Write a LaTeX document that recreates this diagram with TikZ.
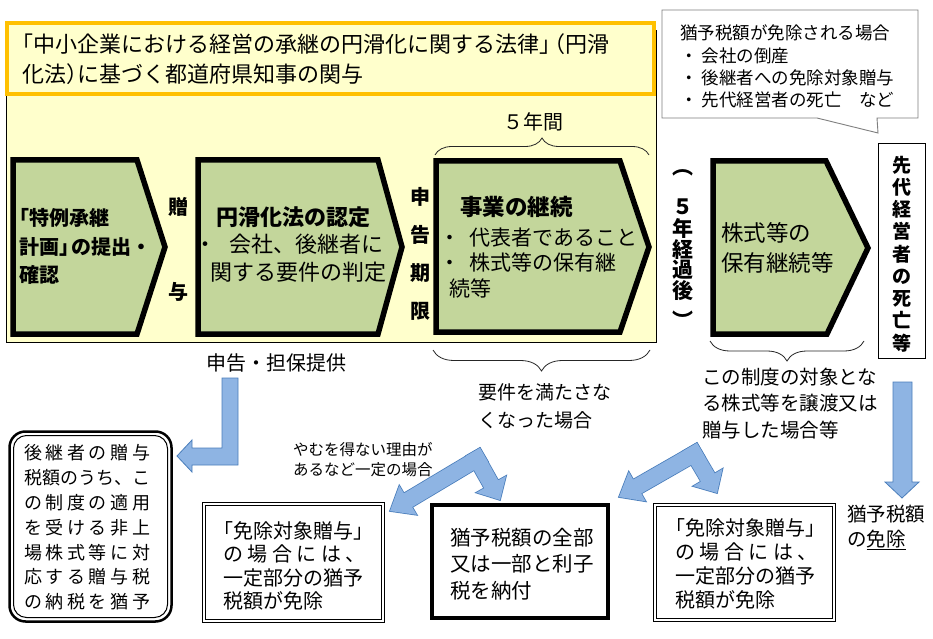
\documentclass[tikz,border=0pt]{standalone}
\usepackage{fontspec}
\setmainfont{Noto Sans CJK JP}
\usetikzlibrary{calc,decorations.pathreplacing}
\definecolor{panel}{HTML}{FFFFCC}
\definecolor{orangeb}{HTML}{FFC000}
\definecolor{chev}{HTML}{C3D69B}
\definecolor{afill}{HTML}{8EB4E3}
\definecolor{aline}{HTML}{4A7EBB}
\definecolor{cgray}{HTML}{7F7F7F}
\newcommand\fs[2]{\fontsize{#1bp}{#2bp}\selectfont}
% block-arrow arm: #1 prefix, #2 start, #3 tip, #4 half shaft, #5 half head, #6 head length
\newcommand\mkarm[6]{%
  \coordinate (#1S) at ($(#2)!-#4!(#3)$);
  \coordinate (#1P) at ($(#3)!#6!(#2)$);
  \coordinate (#1a) at ($(#1S)!#4!90:(#3)$);
  \coordinate (#1b) at ($(#1P)!#4!90:(#3)$);
  \coordinate (#1c) at ($(#1P)!#5!90:(#3)$);
  \coordinate (#1d) at ($(#1P)!#5!-90:(#3)$);
  \coordinate (#1e) at ($(#1P)!#4!-90:(#3)$);
  \coordinate (#1f) at ($(#1S)!#4!-90:(#3)$);
}
\newcommand\armO[2]{\filldraw[aout] (#1a) -- (#1b) -- (#1c) -- (#2) -- (#1d) -- (#1e) -- (#1f) -- cycle;}
\newcommand\armF[2]{\fill[afill] (#1a) -- (#1b) -- (#1c) -- (#2) -- (#1d) -- (#1e) -- (#1f) -- cycle;}
\begin{document}
\begin{tikzpicture}[x=1bp,y=-1bp,
  txt/.style={inner sep=0pt, align=left},
  chevron/.style={draw=black, line width=5.5bp, fill=chev, line join=miter},
  aout/.style={draw=aline, fill=afill, line width=1.6bp, line join=miter},
  asingle/.style={draw=aline, fill=afill, line width=0.8bp},
  dbl/.style={draw=black, fill=white, double=white, line width=0.9bp, double distance=1.5bp},
  bracestyle/.style={decorate, draw=black!85, line width=0.8bp},
]
\useasboundingbox (0,0) rectangle (933,639);
\fill[white] (0,0) rectangle (933,639);

% yellow panel and title
\filldraw[fill=panel, draw=black, line width=0.8bp] (6,30) rectangle (656,342);
\filldraw[fill=panel, draw=orangeb, line width=4bp] (7,23) rectangle (654,94);
\node[txt, anchor=west, font={\fs{22}{29.5}}] (title) at (22,59)
  {\hspace*{-0.5em}「中小企業における経営の承継の円滑化に関する法律」\hspace*{-0.8em}（円滑\\化法）\hspace*{-0.5em}に基づく都道府県知事の関与};

% chevrons
\draw[chevron] (13,160) -- (137,160) -- (165,247) -- (137,334) -- (13,334) -- cycle;
\draw[chevron] (198,160) -- (378,160) -- (402,247) -- (378,334) -- (198,334) -- cycle;
\draw[chevron] (436,161) -- (620,161) -- (649,247) -- (620,332) -- (436,332) -- cycle;
\draw[chevron] (713,161) -- (826,161) -- (868,248) -- (827,334) -- (713,334) -- cycle;

\node[txt, anchor=west, font={\fs{20}{28.5}\bfseries}] (c1t) at (19,246.5)
  {\hspace*{-0.5em}「特例承継\\計画」\hspace*{-0.4em}の提出・\\確認};
\node[txt, font={\fs{20}{20}\bfseries}] (zo) at (178,207) {贈};
\node[txt, font={\fs{20}{20}\bfseries}] (yo) at (178,292) {与};
\node[txt, anchor=west, font={\fs{22}{27.5}}] (c2t) at (194,244.5)
  {\hspace*{1em}\textbf{円滑化法の認定}\\・\hspace*{0.6em}会社、後継者に\\\hspace*{0.75em}関する要件の判定};
\node[txt, align=center, font={\fs{20}{38}\bfseries}] (sk) at (420,253.5) {申\\告\\期\\限};
\node[txt, anchor=west, font={\fs{22.5}{22.5}\bfseries}] (c3h) at (460,207) {事業の継続};
\node[txt, anchor=west, font={\fs{21}{25.5}}] (c3b) at (439,262.7)
  {・\hspace*{0.45em}代表者であること\\・\hspace*{0.45em}株式等の保有継\\\hspace*{0.5em}続等};
\node[txt, anchor=west, font={\fs{22.5}{30}}] (c4t) at (721,248) {株式等の\\保有継続等};

% (5年経過後)
\foreach \ch/\yy [count=\i] in {︵/173, ５/207, 年/228, 経/250, 過/270, 後/291, ︶/320}
  \node[txt, font={\fs{21}{21}\bfseries}] (v\i) at (683,\yy) {\ch};

% braces
\node[txt, font={\fs{20}{20}}] (five) at (533,122) {５年間};
\draw[bracestyle, decoration={brace, amplitude=17bp}] (435,155) -- (649,155);
\draw[bracestyle, decoration={brace, amplitude=21bp}] (650,350) -- (433,350);
\draw[bracestyle, decoration={brace, amplitude=20bp}] (864,341) -- (710,341);

% callout
\filldraw[fill=white, draw=cgray, line width=0.9bp] (662,10) -- (918,10) -- (918,118) -- (877,118) -- (878,133) -- (817,118) -- (662,118) -- cycle;
\node[txt, anchor=west, font={\fs{17.5}{22.3}}] (cotext) at (680,66.5)
  {猶予税額が免除される場合\\・ 会社の倒産\\・ 後継者への免除対象贈与\\・ 先代経営者の死亡　など};

% right vertical box
\filldraw[fill=white, draw=black, line width=0.9bp] (878,143) rectangle (925,358);
\node[txt, align=center, font={\fs{19}{22.25}\bfseries}] (sendai) at (901.5,254) {先\\代\\経\\営\\者\\の\\死\\亡\\等};

% labels
\node[txt, font={\fs{20}{20}}] (shinkoku) at (276,363) {申告・担保提供};
\node[txt, anchor=west, font={\fs{19}{28}}] (yoken) at (478,406) {要件を満たさな\\くなった場合};
\node[txt, anchor=west, font={\fs{19.5}{26.5}}] (seido) at (702,403.5) {この制度の対象とな\\る株式等を譲渡又は\\贈与した場合等};
\node[txt, anchor=west, font={\fs{15.5}{20}}] (yamu) at (293,460) {やむを得ない理由が\\あるなど一定の場合};

% left rounded box
\draw[line width=2.5bp, fill=white, rounded corners=16bp] (9.5,431.5) rectangle (171.5,621.5);
\draw[line width=1bp, rounded corners=13bp] (13.5,435.5) rectangle (167.5,617.5);
\node[txt, anchor=west, font={\fs{18}{24.8}}] (leftt) at (24,527.5)
  {\makebox[7em][s]{後 継 者 の 贈 与}\\\makebox[7em][s]{税額のうち、こ}\\\makebox[7em][s]{の 制 度 の 適 用}\\\makebox[7em][s]{を 受 け る 非 上}\\\makebox[7em][s]{場 株 式 等 に 対}\\\makebox[7em][s]{応 す る 贈 与 税}\\\makebox[7em][s]{の 納 税 を 猶 予}};

% bottom boxes
\draw[dbl] (204,504) rectangle (383,621);
\node[txt, anchor=west, font={\fs{20}{23.3}}] (men1) at (223,566)
  {\hspace*{-0.5em}「免除対象贈与」\\の 場 合 に は 、\\一定部分の猶予\\税額が免除};
\filldraw[fill=white, draw=black, line width=4bp] (432,505) rectangle (608,618);
\node[txt, anchor=west, font={\fs{20.5}{26.5}}] (noufu) at (450,564)
  {猶予税額の全部\\又は一部と利子\\税を納付};
\draw[dbl] (655,505) rectangle (834,620);
\node[txt, anchor=west, font={\fs{20}{24}}] (men2) at (675,564)
  {\hspace*{-0.5em}「免除対象贈与」\\の 場 合 に は 、\\一定部分の猶予\\税額が免除};
\node[txt, anchor=west, font={\fs{19.5}{25}}] (menjo) at (847,527.5) {猶予税額\\の\underline{免除}};

% block arrows
\filldraw[asingle] (222,378) -- (238,378) -- (238,465) -- (192,465) -- (192,472) -- (177,456) -- (192,440) -- (192,448) -- (222,448) -- cycle;
\filldraw[asingle] (893,382) -- (912,382) -- (912,482) -- (919,482) -- (902,498) -- (885,482) -- (893,482) -- cycle;

\coordinate (vlJ) at (477,459);
\coordinate (vlT1) at (390,511);
\coordinate (vlT2) at (500,500);
\mkarm{vlA}{vlJ}{vlT1}{8bp}{17bp}{21bp}
\mkarm{vlB}{vlJ}{vlT2}{8bp}{17bp}{18bp}
\armO{vlA}{vlT1}\armO{vlB}{vlT2}\armF{vlA}{vlT1}\armF{vlB}{vlT2}

\coordinate (vrJ) at (694,454);
\coordinate (vrT1) at (619,497);
\coordinate (vrT2) at (717,493);
\mkarm{vrA}{vrJ}{vrT1}{8bp}{17bp}{21bp}
\mkarm{vrB}{vrJ}{vrT2}{8bp}{17bp}{18bp}
\armO{vrA}{vrT1}\armO{vrB}{vrT2}\armF{vrA}{vrT1}\armF{vrB}{vrT2}
\end{tikzpicture}
\end{document}
